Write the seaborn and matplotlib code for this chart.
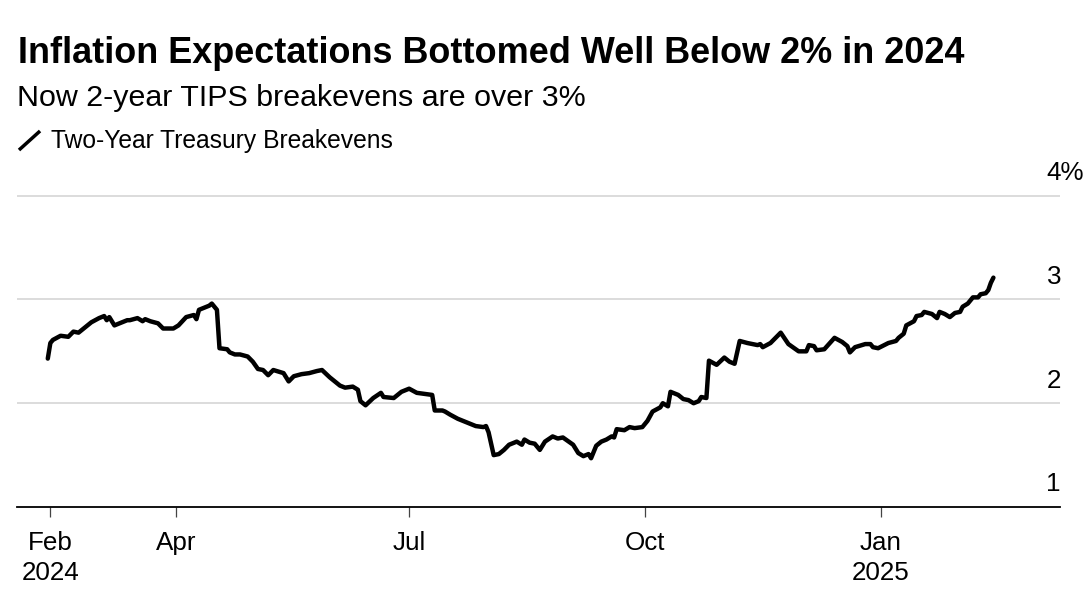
import matplotlib
matplotlib.use('Agg')
import matplotlib.pyplot as plt
from matplotlib.lines import Line2D
import pandas as pd
import seaborn as sns

# two-year breakevens (percent)
dates = [
    '2024-02-11', '2024-02-12', '2024-02-13', '2024-02-16', '2024-02-19', '2024-02-21',
    '2024-02-23', '2024-02-25', '2024-02-28', '2024-03-02', '2024-03-04', '2024-03-05',
    '2024-03-06', '2024-03-08', '2024-03-10', '2024-03-13', '2024-03-14', '2024-03-17',
    '2024-03-19', '2024-03-20', '2024-03-22', '2024-03-25', '2024-03-27', '2024-03-31',
    '2024-04-02', '2024-04-05', '2024-04-08', '2024-04-09', '2024-04-10', '2024-04-12',
    '2024-04-14', '2024-04-15', '2024-04-16', '2024-04-17', '2024-04-18', '2024-04-21',
    '2024-04-22', '2024-04-24', '2024-04-26', '2024-04-29', '2024-05-01', '2024-05-03',
    '2024-05-05', '2024-05-07', '2024-05-09', '2024-05-13', '2024-05-15', '2024-05-17',
    '2024-05-20', '2024-05-23', '2024-05-26', '2024-05-28', '2024-05-31', '2024-06-04',
    '2024-06-06', '2024-06-09', '2024-06-11', '2024-06-12', '2024-06-14', '2024-06-17',
    '2024-06-20', '2024-06-21', '2024-06-25', '2024-06-28', '2024-07-01', '2024-07-04',
    '2024-07-07', '2024-07-10', '2024-07-11', '2024-07-14', '2024-07-15', '2024-07-17',
    '2024-07-20', '2024-07-23', '2024-07-25', '2024-07-27', '2024-07-30', '2024-07-31',
    '2024-08-01', '2024-08-03', '2024-08-05', '2024-08-07', '2024-08-09', '2024-08-12',
    '2024-08-14', '2024-08-15', '2024-08-17', '2024-08-19', '2024-08-21', '2024-08-23',
    '2024-08-26', '2024-08-28', '2024-08-30', '2024-09-03', '2024-09-05', '2024-09-07',
    '2024-09-09', '2024-09-10', '2024-09-12', '2024-09-14', '2024-09-16', '2024-09-18',
    '2024-09-19', '2024-09-20', '2024-09-23', '2024-09-25', '2024-09-27', '2024-09-30',
    '2024-10-02', '2024-10-04', '2024-10-07', '2024-10-08', '2024-10-10', '2024-10-11',
    '2024-10-14', '2024-10-16', '2024-10-18', '2024-10-20', '2024-10-22', '2024-10-23',
    '2024-10-25', '2024-10-26', '2024-10-29', '2024-11-01', '2024-11-03', '2024-11-05',
    '2024-11-07', '2024-11-10', '2024-11-14', '2024-11-15', '2024-11-16', '2024-11-19',
    '2024-11-23', '2024-11-26', '2024-11-30', '2024-12-03', '2024-12-04', '2024-12-06',
    '2024-12-07', '2024-12-10', '2024-12-14', '2024-12-17', '2024-12-19', '2024-12-20',
    '2024-12-22', '2024-12-26', '2024-12-28', '2024-12-29', '2024-12-31', '2025-01-04',
    '2025-01-07', '2025-01-08', '2025-01-10', '2025-01-11', '2025-01-14', '2025-01-15',
    '2025-01-17', '2025-01-18', '2025-01-21', '2025-01-23', '2025-01-24', '2025-01-26',
    '2025-01-28', '2025-01-30', '2025-02-01', '2025-02-02', '2025-02-04', '2025-02-05',
    '2025-02-06', '2025-02-08', '2025-02-09', '2025-02-11', '2025-02-12', '2025-02-13',
    '2025-02-14',
]
breakevens = [
    2.43, 2.58, 2.61, 2.65, 2.64, 2.69,
    2.68, 2.72, 2.78, 2.82, 2.84, 2.80,
    2.83, 2.75, 2.77, 2.80, 2.80, 2.82,
    2.79, 2.81, 2.79, 2.77, 2.72, 2.72,
    2.75, 2.83, 2.85, 2.81, 2.90, 2.92,
    2.94, 2.96, 2.93, 2.90, 2.53, 2.52,
    2.49, 2.47, 2.47, 2.45, 2.40, 2.33,
    2.32, 2.27, 2.32, 2.29, 2.21, 2.26,
    2.28, 2.29, 2.31, 2.32, 2.25, 2.17,
    2.15, 2.16, 2.13, 2.02, 1.98, 2.05,
    2.10, 2.06, 2.05, 2.11, 2.14, 2.10,
    2.09, 2.08, 1.93, 1.93, 1.92, 1.89,
    1.85, 1.82, 1.80, 1.78, 1.77, 1.78,
    1.72, 1.50, 1.51, 1.55, 1.60, 1.63,
    1.60, 1.65, 1.62, 1.61, 1.55, 1.63,
    1.68, 1.66, 1.67, 1.60, 1.52, 1.49,
    1.51, 1.47, 1.59, 1.63, 1.65, 1.68,
    1.67, 1.75, 1.74, 1.77, 1.76, 1.77,
    1.83, 1.92, 1.96, 2.00, 1.97, 2.11,
    2.08, 2.04, 2.03, 2.00, 2.02, 2.06,
    2.05, 2.41, 2.37, 2.44, 2.40, 2.38,
    2.60, 2.58, 2.56, 2.57, 2.54, 2.58,
    2.68, 2.57, 2.50, 2.50, 2.56, 2.55,
    2.51, 2.52, 2.63, 2.59, 2.55, 2.49,
    2.54, 2.57, 2.57, 2.54, 2.53, 2.58,
    2.60, 2.63, 2.67, 2.75, 2.79, 2.84,
    2.85, 2.88, 2.86, 2.82, 2.88, 2.86,
    2.83, 2.87, 2.88, 2.93, 2.96, 2.99,
    3.02, 3.02, 3.05, 3.06, 3.09, 3.16,
    3.21,
]

tick_dates = ['2024-02-12', '2024-04-01', '2024-07-01', '2024-10-01', '2025-01-01']
tick_labels = ['Feb\n2024', 'Apr', 'Jul', 'Oct', 'Jan\n2025']
y_levels = [1, 2, 3, 4]
y_labels = ['1', '2', '3', '4%']

df = pd.DataFrame({'date': pd.to_datetime(dates), 'value': breakevens})

sns.set_style('white')
plt.rcParams['font.family'] = ['Liberation Sans', 'DejaVu Sans']
plt.rcParams['text.color'] = 'black'
plt.rcParams['xtick.color'] = 'black'

fig = plt.figure(figsize=(10.85, 6.02), dpi=100)
ax = fig.add_axes([0.0157, 0.1578, 0.9613, 0.5258])

for lvl in y_levels[1:]:
    ax.axhline(lvl, color='#d9d9d9', lw=1.3, zorder=1)

sns.lineplot(data=df, x='date', y='value', ax=ax, color='black', lw=3.2,
             solid_joinstyle='round', solid_capstyle='round', zorder=3)

ax.set_xlim(pd.Timestamp('2024-01-30'), pd.Timestamp('2025-03-12'))
ax.set_ylim(1, 4.05)

for s in ['top', 'right', 'left']:
    ax.spines[s].set_visible(False)
ax.spines['bottom'].set_color('black')
ax.spines['bottom'].set_linewidth(1.3)

ax.set_xticks(pd.to_datetime(tick_dates))
ax.set_xticklabels(tick_labels, fontsize=18.7, linespacing=1.3, color='black')
ax.tick_params(axis='x', direction='out', length=7.2, width=0.9, color='#444444',
               pad=10, bottom=True)
ax.set_yticks([])
ax.set_xlabel('')
ax.set_ylabel('')

# y labels sit above the gridlines on the right
for lvl, lab in zip(y_levels, y_labels):
    ax.text(0.987, lvl + 0.15, lab, transform=ax.get_yaxis_transform(),
            ha='left', va='baseline', fontsize=18.7, color='black')

fig.text(0.0166, 0.8948, 'Inflation Expectations Bottomed Well Below 2% in 2024',
         fontsize=25.9, fontweight='bold', ha='left', va='baseline', color='black')
fig.text(0.0157, 0.8244, 'Now 2-year TIPS breakevens are over 3%',
         fontsize=21.9, ha='left', va='baseline', color='black')

# legend: slanted line swatch
fig.add_artist(Line2D([0.0175, 0.0369], [0.7508, 0.7824], color='black', lw=2.5,
                      solid_capstyle='butt', transform=fig.transFigure))
fig.text(0.047, 0.7547, 'Two-Year Treasury Breakevens', fontsize=17.7,
         ha='left', va='baseline', color='black')

fig.savefig('out.png', dpi=100)
